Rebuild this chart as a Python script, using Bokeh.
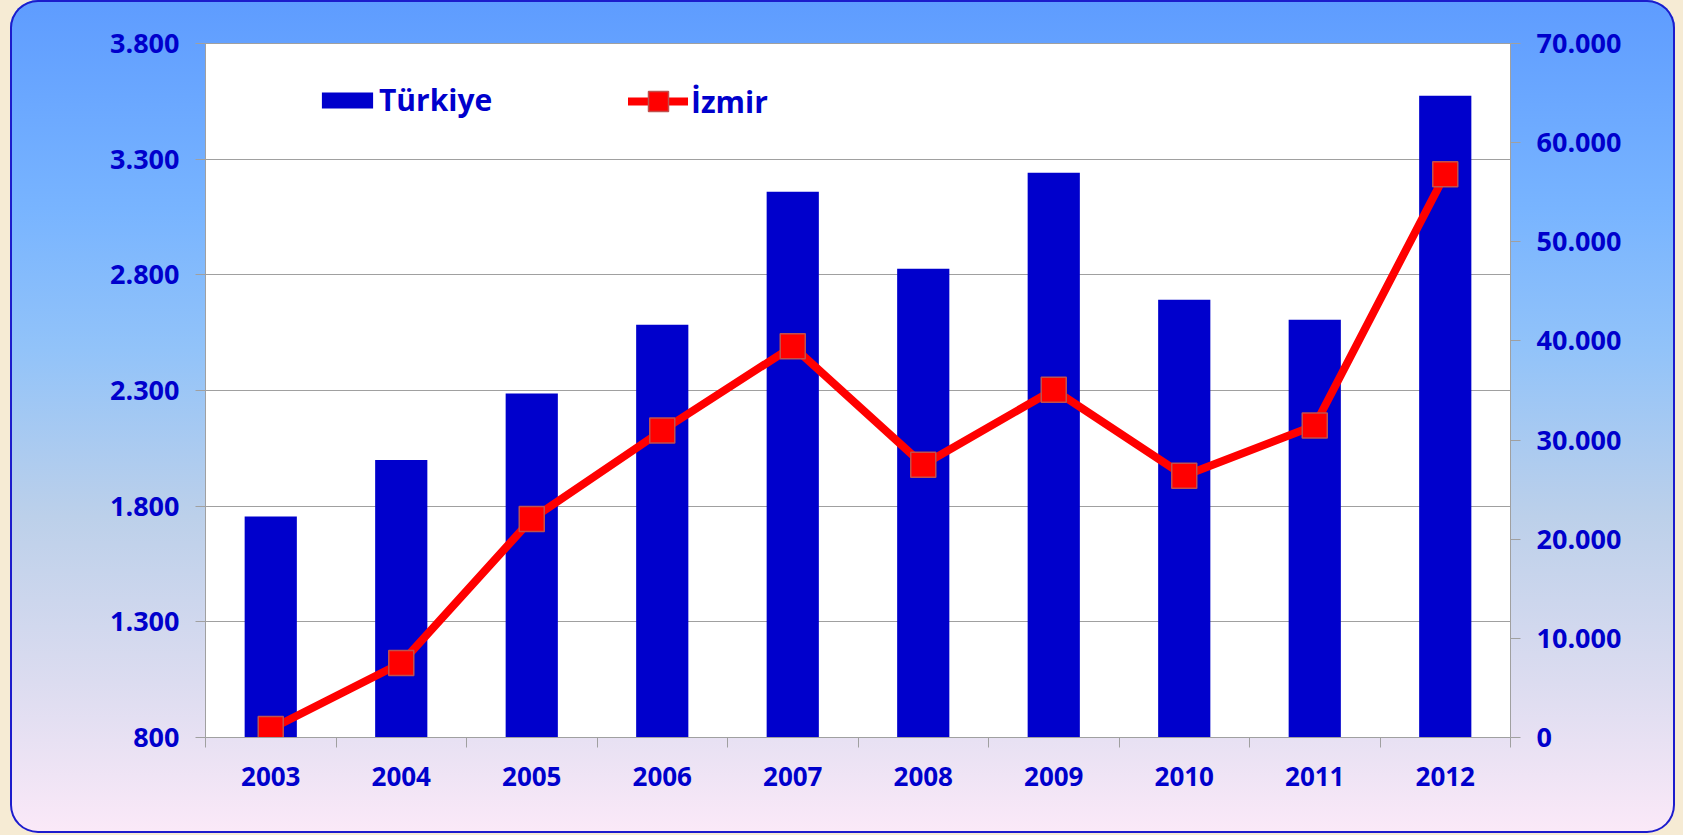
import numpy as np
from bokeh.plotting import figure
from bokeh.models import (Range1d, LinearAxis, FixedTicker, Legend, LegendItem,
                          GlobalInlineStyleSheet)
from bokeh.embed import file_html
from bokeh.resources import INLINE

# ---- data ----
years = [2003, 2004, 2005, 2006, 2007, 2008, 2009, 2010, 2011, 2012]
turkiye = [1755, 2000, 2287, 2584, 3159, 2826, 3241, 2692, 2606, 3574]
izmir = [860, 7514, 22039, 30966, 39458, 27516, 35081, 26397, 31470, 56807]
left_ticks = [800, 1300, 1800, 2300, 2800, 3300, 3800]
right_ticks = [0, 10000, 20000, 30000, 40000, 50000, 60000, 70000]
series_names = ["Türkiye", "İzmir"]


def dotfmt(v):
    return f"{v:,}".replace(",", ".")


FONT = "Open Sans"
TXT = "#0000CC"
GRAY = "#A0A0A0"
BAR = "#0000CC"
RED = "#FF0000"

n = len(years)
centers = [i + 0.5 for i in range(n)]
bounds = [float(i) for i in range(n + 1)]

p = figure(width=1665, height=833,
           min_border_left=195, min_border_right=165,
           min_border_top=43, min_border_bottom=96,
           x_range=Range1d(0, n), y_range=Range1d(left_ticks[0], left_ticks[-1]),
           output_backend="svg", toolbar_location=None, tools="")

p.background_fill_color = "white"
p.border_fill_color = None
p.outline_line_color = GRAY
p.outline_line_width = 1

p.styles = {
    "background": "linear-gradient(to bottom, #5e9cff 0%, #78b4ff 25%, #92c3f9 42%, #bcd0ea 62%, #dcdcf0 82%, #fbe9f8 100%)",
    "border-radius": "28px",
    "box-shadow": "inset 0 0 0 2px #1c1ccc",
}
p.stylesheets = [GlobalInlineStyleSheet(css="body{margin:0;padding:0 0 0 10px;background:#F6EBD4;}")]

# ---- axes ----
p.extra_y_ranges = {"right": Range1d(right_ticks[0], right_ticks[-1])}

yl = p.yaxis[0]
yl.ticker = FixedTicker(ticks=left_ticks)
yl.major_label_overrides = {t: dotfmt(t) for t in left_ticks}
yr = LinearAxis(y_range_name="right", ticker=FixedTicker(ticks=right_ticks))
yr.major_label_overrides = {t: dotfmt(t) for t in right_ticks}
p.add_layout(yr, "right")

for ax in (yl, yr):
    ax.axis_line_color = GRAY
    ax.major_tick_line_color = GRAY
    ax.major_tick_out = 10
    ax.major_tick_in = 0
    ax.minor_tick_line_color = None
    ax.major_label_text_font = FONT
    ax.major_label_text_font_size = "27px"
    ax.major_label_text_font_style = "bold"
    ax.major_label_text_color = TXT
    ax.major_label_standoff = 16

xa = p.xaxis[0]
xa.ticker = FixedTicker(ticks=centers, minor_ticks=bounds)
xa.major_label_overrides = {c: str(y) for c, y in zip(centers, years)}
xa.axis_line_color = GRAY
xa.major_tick_line_color = None
xa.major_tick_out = 0
xa.major_tick_in = 0
xa.minor_tick_line_color = GRAY
xa.minor_tick_out = 10
xa.minor_tick_in = 0
xa.major_label_text_font = FONT
xa.major_label_text_font_size = "26px"
xa.major_label_text_font_style = "bold"
xa.major_label_text_color = TXT
xa.major_label_standoff = 19

p.xgrid.visible = False
p.ygrid.grid_line_color = GRAY
p.ygrid.grid_line_width = 1

# ---- glyphs ----
bars = p.vbar(x=centers, top=turkiye, bottom=left_ticks[0], width=0.4,
              fill_color=BAR, line_color=BAR, line_alpha=0)
ln = p.line(x=centers, y=izmir, y_range_name="right", line_color=RED,
            line_width=8, line_join="round", line_cap="round")
sc = p.scatter(x=centers, y=izmir, y_range_name="right", marker="square", size=25,
               fill_color=RED, line_color="#C0504D", line_width=1.5)

# ---- legends ----
common = dict(padding=0, margin=0, border_line_alpha=0, background_fill_alpha=0,
              label_text_font=FONT, label_text_font_size="30px",
              label_text_font_style="bold", label_text_color=TXT, spacing=0)
leg1 = Legend(items=[LegendItem(label=series_names[0], renderers=[bars])],
              location=(110, 617), glyph_width=64, glyph_height=20,
              label_standoff=0, label_text_baseline="alphabetic", **common)
leg2 = Legend(items=[LegendItem(label=series_names[1], renderers=[ln, sc])],
              location=(423, 611), glyph_width=60, glyph_height=50,
              label_standoff=3, label_text_baseline="middle", **common)
p.add_layout(leg1)
p.add_layout(leg2)

open("out.html", "w").write(file_html(p, INLINE))
